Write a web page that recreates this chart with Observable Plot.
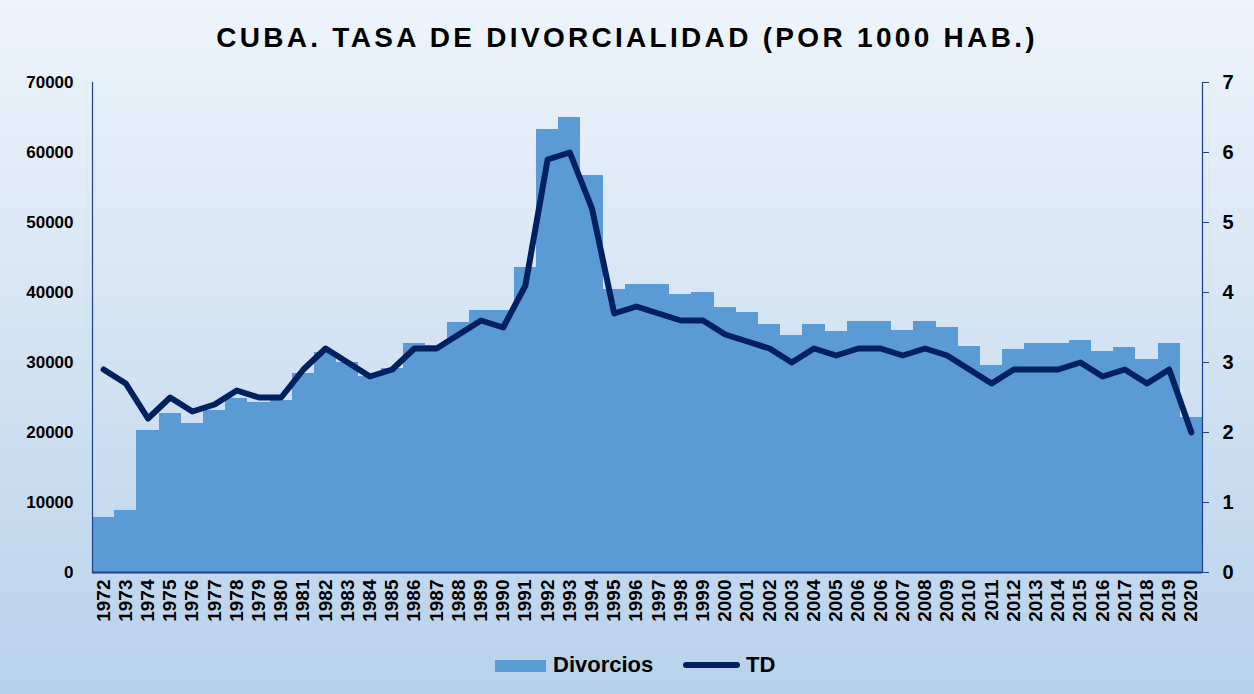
<!DOCTYPE html>
<html>
<head>
<meta charset="utf-8">
<script src="https://cdn.jsdelivr.net/npm/d3@7"></script>
<script src="https://cdn.jsdelivr.net/npm/@observablehq/plot@0.6"></script>
<style>
  html, body { margin: 0; padding: 0; }
  body {
    width: 1254px; height: 694px; overflow: hidden; position: relative;
    background: linear-gradient(to bottom, #eef4fb 0%, #d3e3f3 50%, #b8d2eb 100%);
    font-family: "Liberation Sans", Arial, sans-serif;
  }
  #title {
    position: absolute; top: 23px; left: 0; width: 1254px; text-align: center;
    font-size: 28px; line-height: 30px; font-weight: bold; letter-spacing: 3.3px; color: #000;
  }
  #chart { position: absolute; top: 62px; left: 0; }
  #legend { position: absolute; top: 650px; left: 0; width: 1254px; height: 36px; }
  .lg { position: absolute; font-size: 22px; font-weight: bold; color: #000; line-height: 26px; }
</style>
</head>
<body>
<div id="title">CUBA. TASA DE DIVORCIALIDAD (POR 1000 HAB.)</div>
<div id="chart"></div>
<div id="legend">
  <div style="position:absolute;left:495px;top:10px;width:51px;height:12px;background:#5b9bd5"></div>
  <div class="lg" style="left:553px;top:2px">Divorcios</div>
  <div style="position:absolute;left:683px;top:12px;width:57px;height:6px;border-radius:3px;background:#002060"></div>
  <div class="lg" style="left:746px;top:2px">TD</div>
</div>
<script>
const years = ["1972","1973","1974","1975","1976","1977","1978","1979","1980","1981",
  "1982","1983","1984","1985","1986","1987","1988","1989","1990","1991",
  "1992","1993","1994","1995","1996","1997","1998","1999","2000","2001",
  "2002","2003","2004","2005","2006","2006","2007","2008","2009","2010",
  "2011","2012","2013","2014","2015","2016","2017","2018","2019","2020"];
const divorcios = [7900, 8800, 20300, 22700, 21300, 23100, 24800, 24300, 24600, 28400,
  31500, 30000, 28000, 29100, 32700, 32500, 35700, 37400, 37400, 43600,
  63300, 65000, 56700, 40400, 41100, 41100, 39700, 40000, 37900, 37100,
  35400, 33800, 35400, 34400, 35800, 35800, 34600, 35800, 35000, 32300,
  29600, 31900, 32700, 32700, 33100, 31600, 32100, 30400, 32700, 22100];
const td = [2.9, 2.7, 2.2, 2.5, 2.3, 2.4, 2.6, 2.5, 2.5, 2.9,
  3.2, 3.0, 2.8, 2.9, 3.2, 3.2, 3.4, 3.6, 3.5, 4.1,
  5.9, 6.0, 5.2, 3.7, 3.8, 3.7, 3.6, 3.6, 3.4, 3.3,
  3.2, 3.0, 3.2, 3.1, 3.2, 3.2, 3.1, 3.2, 3.1, 2.9,
  2.7, 2.9, 2.9, 2.9, 3.0, 2.8, 2.9, 2.7, 2.9, 2.0];
const leftTicks = [0, 10000, 20000, 30000, 40000, 50000, 60000, 70000];
const rightTicks = [0, 1, 2, 3, 4, 5, 6, 7];
const ratio = 10000; // right axis unit -> left axis unit

const data = years.map((y, i) => ({i, year: y, div: divorcios[i], td: td[i]}));

const chart = Plot.plot({
  width: 1254,
  height: 590,
  marginTop: 20,
  marginBottom: 80,
  marginLeft: 92,
  marginRight: 52,
  style: {background: "transparent", fontFamily: "'Liberation Sans', Arial, sans-serif", fontWeight: "bold", color: "#000"},
  x: {type: "band", domain: d3.range(years.length), padding: 0, round: false},
  y: {domain: [0, 70000]},
  marks: [
    Plot.barY(data, {x: "i", y: "div", fill: "#5b9bd5", inset: 0, shapeRendering: "crispEdges"}),
    Plot.lineY(data, {x: "i", y: d => d.td * ratio, stroke: "#002060", strokeWidth: 6, strokeLinejoin: "round", strokeLinecap: "round"}),
    Plot.frame({anchor: "left", stroke: "#1f3f8f", strokeWidth: 1.2}),
    Plot.frame({anchor: "right", stroke: "#1f3f8f", strokeWidth: 1.2}),
    Plot.ruleY([0], {stroke: "#1f3f8f", strokeWidth: 2}),
    Plot.axisY({anchor: "left", ticks: leftTicks, tickSize: 0, tickPadding: 19, fontSize: 17, tickFormat: d => String(d), label: null}),
    Plot.axisY({anchor: "right", ticks: rightTicks.map(t => t * ratio), tickSize: 6, tickPadding: 14, fontSize: 20, stroke: "#1f3f8f", tickFormat: d => String(d / ratio), label: null}),
    Plot.axisX({tickFormat: i => years[i], tickRotate: -90, tickSize: 0, tickPadding: 7, fontSize: 19, label: null})
  ]
});
document.getElementById("chart").appendChild(chart);
</script>
</body>
</html>
